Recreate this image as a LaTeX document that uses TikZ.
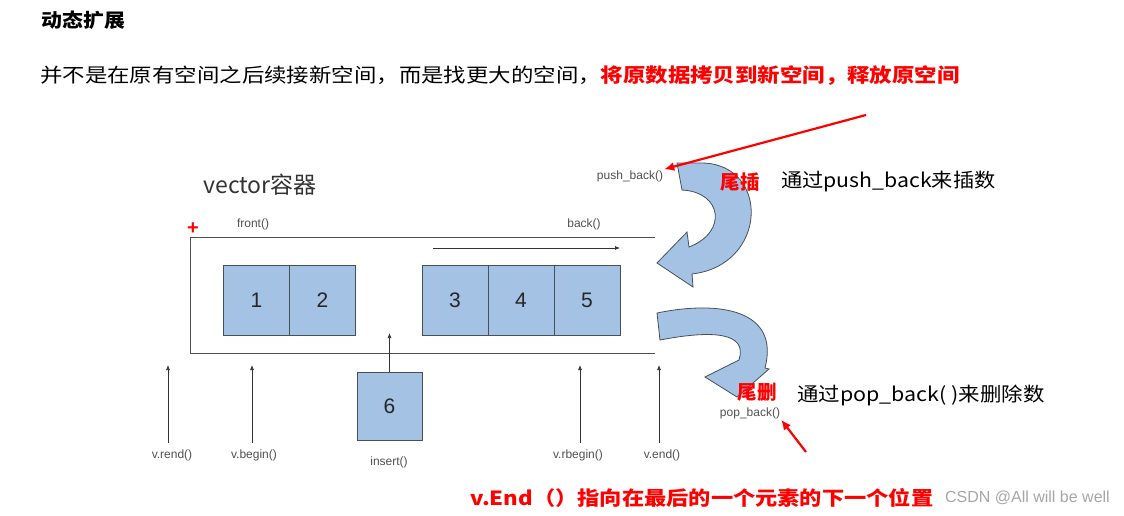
\documentclass[tikz,border=0pt]{standalone}
\usepackage{fontspec}
\setmainfont{Liberation Sans}
\newfontfamily\cjk{Noto Sans CJK SC}
\usetikzlibrary{arrows.meta}
\definecolor{boxblue}{RGB}{164,194,228}
\definecolor{edgegray}{RGB}{70,80,90}
\definecolor{lbl}{RGB}{80,80,80}
\tikzset{
 cell/.style={draw=edgegray,fill=boxblue,minimum width=66pt,minimum height=70pt,inner sep=0,font=\fontsize{21}{21}\selectfont,text=black!85},
 small/.style={font=\fontsize{12}{12}\selectfont,text=lbl,inner sep=1pt},
 wall/.style={draw=lbl,line width=0.9pt},
 uparr/.style={draw=black!80,line width=0.7pt,-{Latex[length=5pt,width=4pt]}},
 redarr/.style={draw=red,line width=2.2pt,-{Latex[length=10pt,width=9pt]}},
 curvy/.style={fill=boxblue,draw=edgegray,line width=0.8pt},
 cjktext/.style={font=\cjk\fontsize{19.5}{19.5}\selectfont,inner sep=0},
 redcjk/.style={font=\cjk\bfseries\fontsize{19.5}{19.5}\selectfont,text=red,inner sep=0},
}
\begin{document}
\begin{tikzpicture}[x=1pt,y=-1pt]
\useasboundingbox (0,0) rectangle (1124,515);
\node[font=\cjk\bfseries\fontsize{19}{19}\selectfont,anchor=west,xscale=1.1,transform shape] (title) at (38,20) {动态扩展};
\node[anchor=west,inner sep=0,xscale=1.15,transform shape] (s1) at (40,76) {\cjk\fontsize{19.5}{19.5}\selectfont 并不是在原有空间之后续接新空间，而是找更大的空间，\textcolor{red}{\bfseries 将原数据拷贝到新空间，释放原空间}};
\node[font=\cjk\fontsize{23}{23}\selectfont,text=black!80,anchor=west] (vt) at (200,185) {vector容器};
% container
\coordinate (tl) at (190,237); \coordinate (tr) at (655,237);
\coordinate (bl) at (190,353); \coordinate (br) at (655,353);
\draw[wall] (tr) -- (tl) -- (bl) -- (br);
\node[text=red,font=\fontsize{20}{20}\selectfont\bfseries,inner sep=0] (plus) at (193,229) {+};
\node[small] (front) at (253,224) {front()};
\node[small] (back) at (584,224) {back()};
\coordinate (ia) at (433,248); \coordinate (ib) at (620,248);
\draw[uparr] (ia) -- (ib);
\node[cell] (c1) at (256.5,300) {1};
\node[cell] (c2) at (322.5,300) {2};
\node[cell] (c3) at (455,300) {3};
\node[cell] (c4) at (521,300) {4};
\node[cell] (c5) at (587,300) {5};
\node[cell,minimum width=65pt,minimum height=68pt] (c6) at (389.5,406) {6};
\coordinate (ins) at (389.5,333);
\draw[uparr] (c6.north) -- (ins);
\node[small] (insl) at (389,462) {insert()};
% iterators
\foreach \n/\x/\t/\lx in {rend/168/v.rend()/172, begin/252/v.begin()/254, rbegin/580/v.rbegin()/578, end/659/v.end()/662}{
  \coordinate (\n a) at (\x,443); \coordinate (\n b) at (\x,365);
  \draw[uparr] (\n a) -- (\n b);
  \node[small] (\n l) at (\lx,455) {\t};
}
% curved arrows
\draw[curvy] (677,163) -- (682,190) .. controls (722,192) and (728,232) .. (689,247) -- (687,232) -- (657,263) -- (693,287) -- (692,274) .. controls (768,265) and (770,165) .. (703,163) -- cycle;
\draw[curvy] (657,313) -- (660,340) .. controls (712,330) and (748,332) .. (739,360) -- (705,377) -- (737,397) -- (769,369) -- (765,368) .. controls (780,310) and (720,300) .. cycle;
% labels right
\node[small] (push) at (630,176) {push\_back()};
\node[redcjk] (wc) at (740,182) {尾插};
\node[cjktext,anchor=west,xscale=1.09,transform shape] (wct) at (781,182) {通过push\_back来插数};
\node[redcjk] (ws) at (757,392) {尾删};
\node[small] (pop) at (750,413) {pop\_back()};
\node[cjktext,anchor=west,xscale=1.1,transform shape] (wst) at (797,395) {通过pop\_back( )来删除数};
\coordinate (r1a) at (866,115); \coordinate (r2a) at (806,452);
\draw[redarr] (r1a) -- (push.north east);
\draw[redarr] (r2a) -- (pop.south east);
\node[redcjk,anchor=west,xscale=1.14,transform shape] (bot) at (470,498) {v.End（）指向在最后的一个元素的下一个位置};
\node[font=\fontsize{16}{16}\selectfont,text=gray!70,anchor=east,inner sep=0] (wm) at (1110,498) {CSDN @All will be well};
\end{tikzpicture}
\end{document}
